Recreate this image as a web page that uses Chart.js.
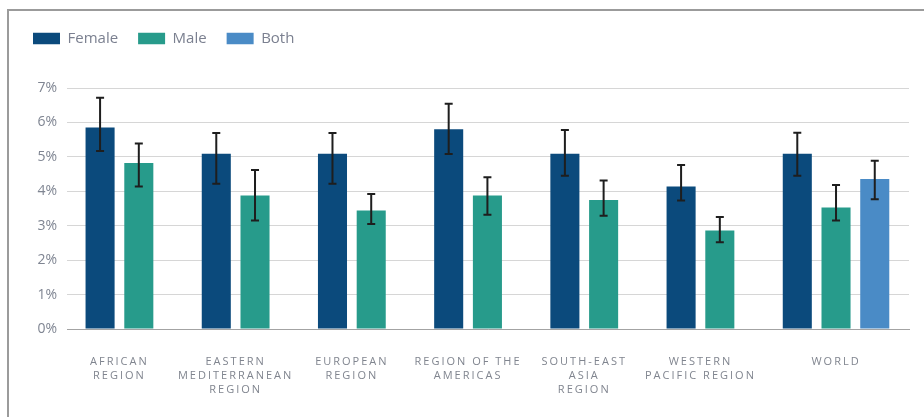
<!DOCTYPE html>
<html>
<head>
<meta charset="utf-8">
<script src="https://cdn.jsdelivr.net/npm/chart.js@4/dist/chart.umd.min.js"></script>
<style>
	html, body { margin: 0; padding: 0; background: #fff; }
	.frame { position: absolute; left: 7px; top: 9px; right: 0; bottom: 0; border-top: 2px solid #9b9b9b; border-left: 2px solid #9b9b9b; }
	.wrap { position: absolute; left: 0; top: 0; width: 924px; height: 417px; }
</style>
</head>
<body>
<div class="frame"></div>
<div class="wrap"><canvas id="chart" width="924" height="417"></canvas></div>
<script>
	'use strict';

	const regions = [
		['AFRICAN', 'REGION'],
		['EASTERN', 'MEDITERRANEAN', 'REGION'],
		['EUROPEAN', 'REGION'],
		['REGION OF THE', 'AMERICAS'],
		['SOUTH-EAST', 'ASIA', 'REGION'],
		['WESTERN', 'PACIFIC REGION'],
		['WORLD']
	];
	// label sits under the female/male pair, world under all three bars
	const labelAt = [-1 / 6, 5 / 6, 11 / 6, 17 / 6, 23 / 6, 29 / 6, 6];

	const female = [5.85, 5.09, 5.09, 5.80, 5.09, 4.14, 5.09];
	const femaleLow = [5.17, 4.22, 4.22, 5.08, 4.45, 3.73, 4.45];
	const femaleHigh = [6.72, 5.69, 5.69, 6.54, 5.78, 4.76, 5.70];

	const male = [4.82, 3.88, 3.44, 3.88, 3.75, 2.86, 3.53];
	const maleLow = [4.14, 3.15, 3.05, 3.32, 3.29, 2.52, 3.15];
	const maleHigh = [5.39, 4.62, 3.92, 4.41, 4.31, 3.25, 4.18];

	const both = [null, null, null, null, null, null, 4.36];
	const bothLow = [null, null, null, null, null, null, 3.77];
	const bothHigh = [null, null, null, null, null, null, 4.89];

	const yTicks = [0, 1, 2, 3, 4, 5, 6, 7];

	function points(values) {
		return values
			.map(function (v, i) { return { x: i, y: v }; })
			.filter(function (p) { return p.y !== null; });
	}

	const errorBars = {
		id: 'errorBars',
		afterDatasetsDraw(chart) {
			const ctx = chart.ctx;
			const yScale = chart.scales.y;

			chart.data.datasets.forEach(function (ds, d) {
				const meta = chart.getDatasetMeta(d);

				meta.data.forEach(function (bar, j) {
					const i = ds.data[j].x;
					const top = yScale.getPixelForValue(ds.errHigh[i]);
					const bottom = yScale.getPixelForValue(ds.errLow[i]);

					ctx.save();
					ctx.strokeStyle = '#1e1e1e';
					ctx.lineWidth = 2;
					ctx.beginPath();
					ctx.moveTo(bar.x, top);
					ctx.lineTo(bar.x, bottom);
					ctx.moveTo(bar.x - 4, top);
					ctx.lineTo(bar.x + 4, top);
					ctx.moveTo(bar.x - 4, bottom);
					ctx.lineTo(bar.x + 4, bottom);
					ctx.stroke();
					ctx.restore();
				});
			});
		}
	};

	const legendGap = {
		id: 'legendGap',
		beforeInit(chart) {
			const fit = chart.legend.fit;
			chart.legend.fit = function () {
				fit.call(this);
				this.height += 32;
			};
		}
	};

	const spacedLabels = {
		id: 'spacedLabels',
		beforeDraw(chart) {
			const xs = chart.scales.x;
			if (xs._spaced) {
				return;
			}
			const drawLabels = xs.drawLabels;
			xs.drawLabels = function (area) {
				this.ctx.save();
				this.ctx.letterSpacing = '2px';
				drawLabels.call(this, area);
				this.ctx.restore();
			};
			xs._spaced = true;
		}
	};

	new Chart(document.getElementById('chart'), {
		type: 'bar',
		data: {
			datasets: [{
				label: 'Female',
				data: points(female),
				errLow: femaleLow,
				errHigh: femaleHigh,
				backgroundColor: '#0b4a7c'
			}, {
				label: 'Male',
				data: points(male),
				errLow: maleLow,
				errHigh: maleHigh,
				backgroundColor: '#279b8b'
			}, {
				label: 'Both',
				data: points(both),
				errLow: bothLow,
				errHigh: bothHigh,
				backgroundColor: '#4a8bc6'
			}]
		},
		options: {
			responsive: false,
			animation: false,
			categoryPercentage: 1,
			barPercentage: 0.75,
			layout: { padding: { left: 13, right: 15, top: 11, bottom: 0 } },
			plugins: {
				tooltip: { enabled: false },
				legend: {
					position: 'top',
					align: 'start',
					labels: {
						boxWidth: 27,
						boxHeight: 11.5,
						padding: 20,
						color: '#7b8090',
						font: { family: 'Open Sans', size: 15 }
					}
				}
			},
			scales: {
				x: {
					type: 'linear',
					offset: false,
					min: -0.618,
					max: 6.628,
					grid: { display: false, drawTicks: false, offset: false },
					border: { display: true, color: '#a3a3a3', width: 1 },
					afterBuildTicks(axis) {
						axis.ticks = labelAt.map(function (v) { return { value: v }; });
					},
					afterFit(axis) {
						axis.height = 88;
					},
					ticks: {
						autoSkip: false,
						maxRotation: 0,
						padding: 25.5,
						color: '#80858f',
						font: { family: 'Open Sans', size: 11, lineHeight: 1.3 },
						callback(value, index) {
							return regions[index];
						}
					}
				},
				y: {
					min: 0,
					max: 7,
					afterBuildTicks(axis) {
						axis.ticks = yTicks.map(function (v) { return { value: v }; });
					},
					afterFit(axis) {
						axis.width = 54;
					},
					grid: { color: '#d6d6d6', drawTicks: false },
					border: { display: false },
					ticks: {
						padding: 10,
						color: '#7f8592',
						font: { family: 'Open Sans', size: 14 },
						callback(value) {
							return value + '%';
						}
					}
				}
			}
		},
		plugins: [errorBars, legendGap, spacedLabels]
	});
</script>
</body>
</html>
